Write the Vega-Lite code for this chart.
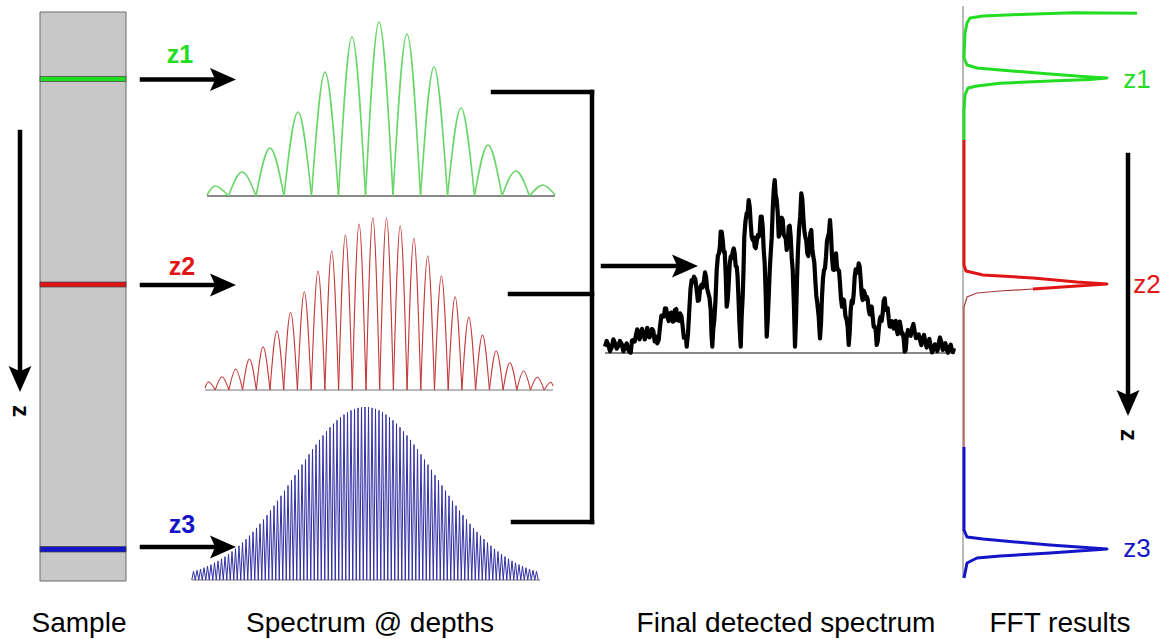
{
"$schema":"https://vega.github.io/schema/vega-lite/v6.json",
"width":1166,"height":639,"padding":0,"autosize":{"type":"none"},
"background":"white",
"config":{"view":{"stroke":null}},
"datasets":{
"box":[{"x":40,"x2":126,"y":12,"y2":581}],
"bands":[{"depth":"z1","x":40,"x2":126,"y":76.5,"y2":81.5},{"depth":"z2","x":40,"x2":126,"y":282,"y2":287},{"depth":"z3","x":40,"x2":126,"y":546.5,"y2":552}],
"segs":[{"x":142,"x2":218,"y":79.5,"y2":79.5},{"x":142,"x2":218,"y":285,"y2":285},{"x":142,"x2":218,"y":547,"y2":547},{"x":603,"x2":680,"y":266,"y2":266},{"x":20,"x2":20,"y":132,"y2":375},{"x":1128,"x2":1128,"y":155,"y2":398},{"x":493,"x2":592,"y":92,"y2":92},{"x":510,"x2":592,"y":294,"y2":294},{"x":513,"x2":592,"y":522,"y2":522},{"x":592,"x2":592,"y":92,"y2":522}],
"headsR":[{"x":223,"y":79.5},{"x":223,"y":285},{"x":223,"y":547},{"x":685,"y":266}],
"headsD":[{"x":20,"y":379},{"x":1128,"y":403}],
"baseK":[{"x":207,"x2":555,"y":196},{"x":605,"x2":955,"y":353}],
"baseG":[{"x":205,"x2":553,"y":390},{"x":192,"x2":540,"y":580}],
"axisG":[{"x":963,"y":6,"y2":578}],
"green":[
{"a":1,"x":207,"y":195},{"a":1,"x":215,"y":186},{"a":1,"x":228.5,"y":196},
{"a":2,"x":228.5,"y":196},{"a":2,"x":242,"y":172},{"a":2,"x":256,"y":196},
{"a":3,"x":256,"y":196},{"a":3,"x":270,"y":148},{"a":3,"x":284,"y":196},
{"a":4,"x":284,"y":196},{"a":4,"x":298,"y":112},{"a":4,"x":311.5,"y":196},
{"a":5,"x":311.5,"y":196},{"a":5,"x":325,"y":72},{"a":5,"x":338.5,"y":196},
{"a":6,"x":338.5,"y":196},{"a":6,"x":352,"y":37},{"a":6,"x":365.5,"y":196},
{"a":7,"x":365.5,"y":196},{"a":7,"x":379,"y":22},{"a":7,"x":393,"y":196},
{"a":8,"x":393,"y":196},{"a":8,"x":407,"y":34},{"a":8,"x":420.5,"y":196},
{"a":9,"x":420.5,"y":196},{"a":9,"x":434,"y":67},{"a":9,"x":447.5,"y":196},
{"a":10,"x":447.5,"y":196},{"a":10,"x":461,"y":108},{"a":10,"x":474.5,"y":196},
{"a":11,"x":474.5,"y":196},{"a":11,"x":488,"y":145},{"a":11,"x":502,"y":196},
{"a":12,"x":502,"y":196},{"a":12,"x":516,"y":171},{"a":12,"x":529.5,"y":196},
{"a":13,"x":529.5,"y":196},{"a":13,"x":543,"y":185},{"a":13,"x":555,"y":195}],
"red":[
{"a":1,"x":205,"y":388},{"a":1,"x":208.3,"y":381.7},{"a":1,"x":215.2,"y":390},
{"a":2,"x":215.2,"y":390},{"a":2,"x":222,"y":376.7},{"a":2,"x":228.9,"y":390},
{"a":3,"x":228.9,"y":390},{"a":3,"x":235.7,"y":369.3},{"a":3,"x":242.6,"y":390},
{"a":4,"x":242.6,"y":390},{"a":4,"x":249.4,"y":359},{"a":4,"x":256.3,"y":390},
{"a":5,"x":256.3,"y":390},{"a":5,"x":263.1,"y":346.7},{"a":5,"x":270,"y":390},
{"a":6,"x":270,"y":390},{"a":6,"x":276.9,"y":331},{"a":6,"x":283.7,"y":390},
{"a":7,"x":283.7,"y":390},{"a":7,"x":290.6,"y":312.3},{"a":7,"x":297.4,"y":390},
{"a":8,"x":297.4,"y":390},{"a":8,"x":304.3,"y":291.7},{"a":8,"x":311.2,"y":390},
{"a":9,"x":311.2,"y":390},{"a":9,"x":318,"y":271},{"a":9,"x":324.9,"y":390},
{"a":10,"x":324.9,"y":390},{"a":10,"x":331.7,"y":251},{"a":10,"x":338.6,"y":390},
{"a":11,"x":338.6,"y":390},{"a":11,"x":345.4,"y":235},{"a":11,"x":352.3,"y":390},
{"a":12,"x":352.3,"y":390},{"a":12,"x":359.1,"y":224},{"a":12,"x":366,"y":390},
{"a":13,"x":366,"y":390},{"a":13,"x":372.8,"y":217.7},{"a":13,"x":379.7,"y":390},
{"a":14,"x":379.7,"y":390},{"a":14,"x":386.5,"y":218.3},{"a":14,"x":393.4,"y":390},
{"a":15,"x":393.4,"y":390},{"a":15,"x":400.2,"y":225.7},{"a":15,"x":407.1,"y":390},
{"a":16,"x":407.1,"y":390},{"a":16,"x":413.9,"y":238.3},{"a":16,"x":420.8,"y":390},
{"a":17,"x":420.8,"y":390},{"a":17,"x":427.7,"y":255.7},{"a":17,"x":434.5,"y":390},
{"a":18,"x":434.5,"y":390},{"a":18,"x":441.4,"y":276},{"a":18,"x":448.2,"y":390},
{"a":19,"x":448.2,"y":390},{"a":19,"x":455.1,"y":296.7},{"a":19,"x":461.9,"y":390},
{"a":20,"x":461.9,"y":390},{"a":20,"x":468.8,"y":317.3},{"a":20,"x":475.6,"y":390},
{"a":21,"x":475.6,"y":390},{"a":21,"x":482.5,"y":335},{"a":21,"x":489.4,"y":390},
{"a":22,"x":489.4,"y":390},{"a":22,"x":496.2,"y":350.7},{"a":22,"x":503.1,"y":390},
{"a":23,"x":503.1,"y":390},{"a":23,"x":509.9,"y":362.7},{"a":23,"x":516.8,"y":390},
{"a":24,"x":516.8,"y":390},{"a":24,"x":523.6,"y":371},{"a":24,"x":530.5,"y":390},
{"a":25,"x":530.5,"y":390},{"a":25,"x":537.3,"y":377.3},{"a":25,"x":544.2,"y":390},
{"a":26,"x":544.2,"y":390},{"a":26,"x":551,"y":382.3},{"a":26,"x":553,"y":386}],
"blue":[
{"x":191.75,"y":580},{"x":193.5,"y":571.4},{"x":195.25,"y":580},{"x":197,"y":570.3},{"x":198.75,"y":580},{"x":200.5,"y":569.1},{"x":202.25,"y":580},{"x":204,"y":567.7},{"x":205.75,"y":580},{"x":207.5,"y":566.2},{"x":209.25,"y":580},{"x":211,"y":564.6},{"x":212.75,"y":580},{"x":214.5,"y":562.8},{"x":216.25,"y":580},{"x":218,"y":560.9},{"x":219.75,"y":580},{"x":221.5,"y":558.8},{"x":223.25,"y":580},{"x":225,"y":556.6},{"x":226.75,"y":580},{"x":228.5,"y":554.2},{"x":230.25,"y":580},{"x":232,"y":551.5},{"x":233.75,"y":580},{"x":235.5,"y":548.8},{"x":237.25,"y":580},{"x":239,"y":545.8},{"x":240.75,"y":580},{"x":242.5,"y":542.6},{"x":244.25,"y":580},{"x":246,"y":539.2},{"x":247.75,"y":580},{"x":249.5,"y":535.7},{"x":251.25,"y":580},{"x":253,"y":531.9},{"x":254.75,"y":580},{"x":256.5,"y":527.9},{"x":258.25,"y":580},{"x":260,"y":523.8},{"x":261.75,"y":580},{"x":263.5,"y":519.5},{"x":265.25,"y":580},{"x":267,"y":515.1},{"x":268.75,"y":580},{"x":270.5,"y":510.5},{"x":272.25,"y":580},{"x":274,"y":505.7},{"x":275.75,"y":580},{"x":277.5,"y":500.8},{"x":279.25,"y":580},{"x":281,"y":495.8},{"x":282.75,"y":580},{"x":284.5,"y":490.7},{"x":286.25,"y":580},{"x":288,"y":485.5},{"x":289.75,"y":580},{"x":291.5,"y":480.3},{"x":293.25,"y":580},{"x":295,"y":475.1},{"x":296.75,"y":580},{"x":298.5,"y":469.8},{"x":300.25,"y":580},{"x":302,"y":464.6},{"x":303.75,"y":580},{"x":305.5,"y":459.5},{"x":307.25,"y":580},{"x":309,"y":454.4},{"x":310.75,"y":580},{"x":312.5,"y":449.4},{"x":314.25,"y":580},{"x":316,"y":444.6},{"x":317.75,"y":580},{"x":319.5,"y":439.9},{"x":321.25,"y":580},{"x":323,"y":435.5},{"x":324.75,"y":580},{"x":326.5,"y":431.3},{"x":328.25,"y":580},{"x":330,"y":427.3},{"x":331.75,"y":580},{"x":333.5,"y":423.7},{"x":335.25,"y":580},{"x":337,"y":420.3},{"x":338.75,"y":580},{"x":340.5,"y":417.3},{"x":342.25,"y":580},{"x":344,"y":414.6},{"x":345.75,"y":580},{"x":347.5,"y":412.3},{"x":349.25,"y":580},{"x":351,"y":410.4},{"x":352.75,"y":580},{"x":354.5,"y":408.9},{"x":356.25,"y":580},{"x":358,"y":407.9},{"x":359.75,"y":580},{"x":361.5,"y":407.2},{"x":363.25,"y":580},{"x":365,"y":407},{"x":366.75,"y":580},{"x":368.5,"y":407.2},{"x":370.25,"y":580},{"x":372,"y":407.9},{"x":373.75,"y":580},{"x":375.5,"y":408.9},{"x":377.25,"y":580},{"x":379,"y":410.4},{"x":380.75,"y":580},{"x":382.5,"y":412.3},{"x":384.25,"y":580},{"x":386,"y":414.6},{"x":387.75,"y":580},{"x":389.5,"y":417.3},{"x":391.25,"y":580},{"x":393,"y":420.3},{"x":394.75,"y":580},{"x":396.5,"y":423.7},{"x":398.25,"y":580},{"x":400,"y":427.3},{"x":401.75,"y":580},{"x":403.5,"y":431.3},{"x":405.25,"y":580},{"x":407,"y":435.5},{"x":408.75,"y":580},{"x":410.5,"y":439.9},{"x":412.25,"y":580},{"x":414,"y":444.6},{"x":415.75,"y":580},{"x":417.5,"y":449.4},{"x":419.25,"y":580},{"x":421,"y":454.4},{"x":422.75,"y":580},{"x":424.5,"y":459.5},{"x":426.25,"y":580},{"x":428,"y":464.6},{"x":429.75,"y":580},{"x":431.5,"y":469.8},{"x":433.25,"y":580},{"x":435,"y":475.1},{"x":436.75,"y":580},{"x":438.5,"y":480.3},{"x":440.25,"y":580},{"x":442,"y":485.5},{"x":443.75,"y":580},{"x":445.5,"y":490.7},{"x":447.25,"y":580},{"x":449,"y":495.8},{"x":450.75,"y":580},{"x":452.5,"y":500.8},{"x":454.25,"y":580},{"x":456,"y":505.7},{"x":457.75,"y":580},{"x":459.5,"y":510.5},{"x":461.25,"y":580},{"x":463,"y":515.1},{"x":464.75,"y":580},{"x":466.5,"y":519.5},{"x":468.25,"y":580},{"x":470,"y":523.8},{"x":471.75,"y":580},{"x":473.5,"y":527.9},{"x":475.25,"y":580},{"x":477,"y":531.9},{"x":478.75,"y":580},{"x":480.5,"y":535.7},{"x":482.25,"y":580},{"x":484,"y":539.2},{"x":485.75,"y":580},{"x":487.5,"y":542.6},{"x":489.25,"y":580},{"x":491,"y":545.8},{"x":492.75,"y":580},{"x":494.5,"y":548.8},{"x":496.25,"y":580},{"x":498,"y":551.5},{"x":499.75,"y":580},{"x":501.5,"y":554.2},{"x":503.25,"y":580},{"x":505,"y":556.6},{"x":506.75,"y":580},{"x":508.5,"y":558.8},{"x":510.25,"y":580},{"x":512,"y":560.9},{"x":513.75,"y":580},{"x":515.5,"y":562.8},{"x":517.25,"y":580},{"x":519,"y":564.6},{"x":520.75,"y":580},{"x":522.5,"y":566.2},{"x":524.25,"y":580},{"x":526,"y":567.7},{"x":527.75,"y":580},{"x":529.5,"y":569.1},{"x":531.25,"y":580},{"x":533,"y":570.3},{"x":534.75,"y":580},{"x":536.5,"y":571.4},{"x":538.25,"y":580}],
"det":[
{"x":605,"y":346.7},{"x":606.7,"y":340.9},{"x":608.3,"y":345},{"x":610,"y":351.2},{"x":611.7,"y":347.3},{"x":613.4,"y":339.3},{"x":615,"y":343.3},{"x":616.7,"y":348.7},{"x":618.3,"y":346},{"x":620,"y":341},{"x":621.7,"y":344},{"x":623.4,"y":351.4},{"x":625,"y":346.7},{"x":626.7,"y":343.4},{"x":628.3,"y":350},{"x":629.5,"y":352},{"x":630.7,"y":352.7},{"x":632,"y":340.4},{"x":633.3,"y":340},{"x":634.7,"y":341.5},{"x":636,"y":335},{"x":637.2,"y":329.4},{"x":638.3,"y":331.7},{"x":639.5,"y":339.4},{"x":640.7,"y":335},{"x":642,"y":328.9},{"x":643.3,"y":332.7},{"x":644.7,"y":339.4},{"x":646,"y":336},{"x":647.2,"y":327.9},{"x":648.3,"y":331.7},{"x":649.5,"y":337.4},{"x":650.7,"y":335},{"x":652,"y":329},{"x":653.3,"y":331},{"x":654.7,"y":341.5},{"x":656,"y":340},{"x":656.7,"y":336.7},{"x":657.3,"y":343.3},{"x":658.7,"y":340},{"x":660,"y":326.7},{"x":661.4,"y":315.7},{"x":662.7,"y":316.7},{"x":663.9,"y":316.5},{"x":665,"y":308.3},{"x":666.2,"y":308.5},{"x":667.3,"y":316.7},{"x":668.7,"y":321},{"x":670,"y":313.3},{"x":671.4,"y":312.5},{"x":672.7,"y":321.7},{"x":673.9,"y":320.9},{"x":675,"y":310},{"x":676.2,"y":309},{"x":677.3,"y":320},{"x":678.7,"y":320.7},{"x":680,"y":313.3},{"x":681.4,"y":316},{"x":682.7,"y":326.7},{"x":683.9,"y":337.7},{"x":685,"y":336.7},{"x":685.9,"y":336.7},{"x":686.7,"y":346.7},{"x":688,"y":333.4},{"x":689.3,"y":310},{"x":690.5,"y":289},{"x":691.7,"y":280},{"x":692.9,"y":282.4},{"x":694,"y":276.7},{"x":695.4,"y":279.4},{"x":696.7,"y":290},{"x":697.9,"y":301},{"x":699,"y":300},{"x":700.2,"y":287.5},{"x":701.3,"y":285},{"x":702.7,"y":287.5},{"x":704,"y":280},{"x":705,"y":272.4},{"x":706,"y":276.7},{"x":707.2,"y":289},{"x":708.3,"y":293.3},{"x":709.5,"y":297.7},{"x":710.7,"y":310},{"x":711.5,"y":334.4},{"x":712.3,"y":346.7},{"x":713.3,"y":328.4},{"x":714.3,"y":320},{"x":715.5,"y":300},{"x":716.7,"y":270},{"x":717.9,"y":255.7},{"x":719,"y":253.3},{"x":719.9,"y":246.5},{"x":720.7,"y":231.7},{"x":721.7,"y":231.9},{"x":722.7,"y":240},{"x":723.7,"y":251.9},{"x":724.7,"y":251.7},{"x":725.7,"y":274.2},{"x":726.7,"y":306.7},{"x":727.7,"y":300},{"x":728.7,"y":283.3},{"x":729.7,"y":264},{"x":730.7,"y":256.7},{"x":731.7,"y":258.2},{"x":732.7,"y":251.7},{"x":733.7,"y":248.5},{"x":734.7,"y":253.3},{"x":735.7,"y":266},{"x":736.7,"y":266.7},{"x":737.5,"y":275},{"x":738.3,"y":293.3},{"x":739.5,"y":325},{"x":740.7,"y":346.7},{"x":741.7,"y":315.7},{"x":742.7,"y":296.7},{"x":743.5,"y":270.7},{"x":744.3,"y":236.7},{"x":745.5,"y":221},{"x":746.7,"y":213.3},{"x":747.7,"y":212.7},{"x":748.7,"y":200},{"x":749.7,"y":206.7},{"x":750.7,"y":223.3},{"x":751.7,"y":236.7},{"x":752.7,"y":240},{"x":753.7,"y":237.4},{"x":754.7,"y":246.7},{"x":755.7,"y":248.2},{"x":756.7,"y":241.7},{"x":757.7,"y":235.2},{"x":758.7,"y":236.7},{"x":759.7,"y":232.7},{"x":760.7,"y":216.7},{"x":761.7,"y":216.7},{"x":762.7,"y":226.7},{"x":763.7,"y":250},{"x":764.7,"y":263.3},{"x":765.7,"y":294},{"x":766.7,"y":336.7},{"x":767.7,"y":320.7},{"x":768.7,"y":296.7},{"x":769.7,"y":271},{"x":770.7,"y":253.3},{"x":771.7,"y":237.7},{"x":772.7,"y":210},{"x":773.7,"y":190},{"x":774.7,"y":180},{"x":775.7,"y":195},{"x":776.7,"y":200},{"x":777.7,"y":212.4},{"x":778.7,"y":236.7},{"x":779.7,"y":234},{"x":780.7,"y":223.3},{"x":781.7,"y":217.7},{"x":782.7,"y":220},{"x":783.7,"y":234.4},{"x":784.7,"y":236.7},{"x":785.7,"y":238.4},{"x":786.7,"y":250},{"x":787.7,"y":243.4},{"x":788.7,"y":226.7},{"x":789.7,"y":225.7},{"x":790.7,"y":236.7},{"x":791.7,"y":257.4},{"x":792.7,"y":270},{"x":793.9,"y":304.4},{"x":795,"y":346.7},{"x":796,"y":319.4},{"x":797,"y":280},{"x":798,"y":250},{"x":799,"y":230},{"x":800.2,"y":216.7},{"x":801.3,"y":193.3},{"x":802.3,"y":199},{"x":803.3,"y":216.7},{"x":804.3,"y":230.7},{"x":805.3,"y":236.7},{"x":806.3,"y":241},{"x":807.3,"y":253.3},{"x":808.3,"y":256},{"x":809.3,"y":246.7},{"x":810.3,"y":233.4},{"x":811.3,"y":230},{"x":812.3,"y":248.4},{"x":813.3,"y":256.7},{"x":814.3,"y":262.4},{"x":815.3,"y":280},{"x":816.3,"y":295.7},{"x":817.3,"y":303.3},{"x":818.7,"y":316.8},{"x":820,"y":338.3},{"x":821,"y":323.5},{"x":822,"y":296.7},{"x":823,"y":278.4},{"x":824,"y":270},{"x":825,"y":268.4},{"x":826,"y":256.7},{"x":827,"y":240.7},{"x":828,"y":236.7},{"x":829,"y":232.4},{"x":830,"y":220},{"x":831,"y":234.4},{"x":832,"y":256.7},{"x":833,"y":269.4},{"x":834,"y":270},{"x":835,"y":256.7},{"x":836,"y":253.3},{"x":837,"y":266.7},{"x":838,"y":270},{"x":839,"y":270.7},{"x":840,"y":283.3},{"x":841,"y":299},{"x":842,"y":306.7},{"x":843,"y":299.4},{"x":844,"y":300},{"x":845.4,"y":316},{"x":846.7,"y":320},{"x":847.7,"y":327.5},{"x":848.7,"y":345},{"x":849.7,"y":332.5},{"x":850.7,"y":310},{"x":851.7,"y":300.7},{"x":852.7,"y":303.3},{"x":853.7,"y":294},{"x":854.7,"y":276.7},{"x":855.7,"y":269.4},{"x":856.7,"y":270},{"x":857.7,"y":272.7},{"x":858.7,"y":263.3},{"x":859.7,"y":266.7},{"x":860.7,"y":280},{"x":861.7,"y":295},{"x":862.7,"y":300},{"x":863.7,"y":290.7},{"x":864.7,"y":293.3},{"x":865.7,"y":299},{"x":866.7,"y":296.7},{"x":867.7,"y":299.4},{"x":868.7,"y":310},{"x":869.7,"y":314.4},{"x":870.7,"y":306.7},{"x":871.7,"y":306.7},{"x":872.7,"y":316.7},{"x":873.7,"y":326.7},{"x":874.7,"y":326.7},{"x":875.7,"y":329.9},{"x":876.7,"y":345},{"x":877.7,"y":341.5},{"x":878.7,"y":330},{"x":879.7,"y":319.4},{"x":880.7,"y":316.7},{"x":881.7,"y":321},{"x":882.7,"y":313.3},{"x":883.7,"y":300.8},{"x":884.7,"y":298.3},{"x":885.7,"y":309.2},{"x":886.7,"y":310},{"x":887.7,"y":308.2},{"x":888.7,"y":318.3},{"x":889.7,"y":326.5},{"x":890.7,"y":326.7},{"x":891.7,"y":321},{"x":892.7,"y":323.3},{"x":893.7,"y":328.5},{"x":894.7,"y":321.7},{"x":895.7,"y":320.9},{"x":896.7,"y":330},{"x":897.7,"y":334.2},{"x":898.7,"y":328.3},{"x":899.7,"y":321.5},{"x":900.7,"y":326.7},{"x":901.7,"y":334},{"x":902.7,"y":333.3},{"x":903.7,"y":338.5},{"x":904.7,"y":351.7},{"x":905.7,"y":350.2},{"x":906.7,"y":336.7},{"x":908,"y":330},{"x":909.3,"y":333.3},{"x":910.7,"y":335.8},{"x":912,"y":328.3},{"x":913.4,"y":324},{"x":914.7,"y":331.7},{"x":916,"y":338.2},{"x":917.3,"y":336.7},{"x":918.7,"y":334.4},{"x":920,"y":340},{"x":921.4,"y":345.2},{"x":922.7,"y":338.3},{"x":924,"y":335},{"x":925.3,"y":341.7},{"x":926.7,"y":347.5},{"x":928,"y":343.3},{"x":929.4,"y":339},{"x":930.7,"y":346.7},{"x":932,"y":352.4},{"x":933.3,"y":350},{"x":934.7,"y":344.4},{"x":936,"y":346.7},{"x":937.4,"y":351},{"x":938.7,"y":343.3},{"x":940,"y":337.5},{"x":941.3,"y":341.7},{"x":942.7,"y":350},{"x":944,"y":348.3},{"x":945.4,"y":343.2},{"x":946.7,"y":350},{"x":948,"y":352.7},{"x":949.3,"y":347.3},{"x":950.7,"y":344.7},{"x":952,"y":350},{"x":953,"y":352},{"x":954,"y":348.3}],
"fft":[
{"depth":"z1","o":1,"x":1137,"y":13.3},{"depth":"z1","o":2,"x":1073,"y":12.7},{"depth":"z1","o":3,"x":1020,"y":14.5},{"depth":"z1","o":4,"x":983,"y":16},{"depth":"z1","o":5,"x":970,"y":18},{"depth":"z1","o":6,"x":967,"y":23},{"depth":"z1","o":7,"x":965,"y":33},{"depth":"z1","o":8,"x":964,"y":58},{"depth":"z1","o":9,"x":967,"y":65},{"depth":"z1","o":10,"x":977,"y":68},{"depth":"z1","o":11,"x":1000,"y":70},{"depth":"z1","o":12,"x":1050,"y":74},{"depth":"z1","o":13,"x":1090,"y":77},{"depth":"z1","o":14,"x":1107,"y":78},{"depth":"z1","o":15,"x":1090,"y":79.5},{"depth":"z1","o":16,"x":1050,"y":81},{"depth":"z1","o":17,"x":1000,"y":83.3},{"depth":"z1","o":18,"x":977,"y":86},{"depth":"z1","o":19,"x":968,"y":88},{"depth":"z1","o":20,"x":965,"y":95},{"depth":"z1","o":21,"x":964,"y":110},{"depth":"z1","o":22,"x":964,"y":140},
{"depth":"z2","o":1,"x":964,"y":140},{"depth":"z2","o":2,"x":964,"y":265},{"depth":"z2","o":3,"x":966,"y":271},{"depth":"z2","o":4,"x":983,"y":275},{"depth":"z2","o":5,"x":1033,"y":278},{"depth":"z2","o":6,"x":1077,"y":282},{"depth":"z2","o":7,"x":1107,"y":284},{"depth":"z2","o":8,"x":1077,"y":286},{"depth":"z2","o":9,"x":1033,"y":289},
{"depth":"z3","o":1,"x":964,"y":447},{"depth":"z3","o":2,"x":964,"y":530},{"depth":"z3","o":3,"x":967,"y":537},{"depth":"z3","o":4,"x":983,"y":539},{"depth":"z3","o":5,"x":1050,"y":545},{"depth":"z3","o":6,"x":1107,"y":549},{"depth":"z3","o":7,"x":1050,"y":553},{"depth":"z3","o":8,"x":1000,"y":556},{"depth":"z3","o":9,"x":977,"y":558},{"depth":"z3","o":10,"x":967,"y":563},{"depth":"z3","o":11,"x":964,"y":578}],
"fftThin":[{"o":1,"x":1033,"y":289},{"o":2,"x":1000,"y":291},{"o":3,"x":977,"y":293},{"o":4,"x":967,"y":297},{"o":5,"x":964,"y":307},{"o":6,"x":964,"y":447}],
"zl":[{"depth":"z1","x":180,"y":55,"t":"z1"},{"depth":"z2","x":182,"y":267,"t":"z2"},{"depth":"z3","x":182,"y":525,"t":"z3"}],
"zr":[{"depth":"z1","x":1137,"y":80,"t":"z1"},{"depth":"z2","x":1147,"y":285,"t":"z2"},{"depth":"z3","x":1137,"y":549,"t":"z3"}],
"bl":[{"x":79,"y":632,"t":"Sample"},{"x":370,"y":632,"t":"Spectrum @ depths"},{"x":786,"y":632,"t":"Final detected spectrum"},{"x":1060,"y":632,"t":"FFT results"}],
"nl":[{"x":20,"y":411,"t":"z"},{"x":1128,"y":435,"t":"z"}]
},
"encoding":{
"x":{"field":"x","type":"quantitative","scale":{"domain":[0,1166],"nice":false,"zero":false},"axis":null},
"y":{"field":"y","type":"quantitative","scale":{"domain":[0,639],"nice":false,"zero":false,"reverse":true},"axis":null}
},
"layer":[
{"data":{"name":"box"},"mark":{"type":"rect","fill":"#c8c8c8","stroke":"#6a6a6a","strokeWidth":1},"encoding":{"x2":{"field":"x2"},"y2":{"field":"y2"}}},
{"data":{"name":"bands"},"mark":{"type":"rect","stroke":"#404040","strokeWidth":0.7,"opacity":1},"encoding":{"x2":{"field":"x2"},"y2":{"field":"y2"},"fill":{"field":"depth","type":"nominal","scale":{"domain":["z1","z2","z3"],"range":["#22dd22","#e01515","#1515c8"]},"legend":null}}},
{"data":{"name":"baseK"},"mark":{"type":"rule","color":"#111111","strokeWidth":1},"encoding":{"x2":{"field":"x2"}}},
{"data":{"name":"baseG"},"mark":{"type":"rule","color":"#777777","strokeWidth":1.2},"encoding":{"x2":{"field":"x2"}}},
{"data":{"name":"green"},"mark":{"type":"line","interpolate":"monotone","color":"#6ad66a","strokeWidth":1.6},"encoding":{"detail":{"field":"a","type":"nominal"}}},
{"data":{"name":"red"},"mark":{"type":"line","interpolate":"monotone","color":"#c23a3a","strokeWidth":1.1},"encoding":{"detail":{"field":"a","type":"nominal"}}},
{"data":{"name":"blue"},"mark":{"type":"line","interpolate":"linear","color":"#3030a4","strokeWidth":1},"encoding":{}},
{"data":{"name":"det"},"mark":{"type":"line","interpolate":"linear","color":"#000000","strokeWidth":4.2,"strokeJoin":"round"},"encoding":{}},
{"data":{"name":"axisG"},"mark":{"type":"rule","color":"#8a8a8a","strokeWidth":1.2},"encoding":{"y2":{"field":"y2"}}},
{"data":{"name":"fft"},"mark":{"type":"line","interpolate":"linear","strokeWidth":3,"strokeJoin":"round"},"encoding":{"order":{"field":"o","type":"quantitative"},"color":{"field":"depth","type":"nominal","scale":{"domain":["z1","z2","z3"],"range":["#22dd22","#e01515","#1515c8"]},"legend":null}}},
{"data":{"name":"fftThin"},"mark":{"type":"line","interpolate":"linear","strokeWidth":1.2,"color":"#a83a3a"},"encoding":{"order":{"field":"o","type":"quantitative"}}},
{"data":{"name":"segs"},"mark":{"type":"rule","color":"#000000","strokeWidth":4.5,"strokeCap":"square"},"encoding":{"x2":{"field":"x2"},"y2":{"field":"y2"}}},
{"data":{"name":"headsR"},"mark":{"type":"point","shape":"M -1 -0.88 L 1 0 L -1 0.88 L -0.6 0 Z","size":676,"filled":true,"color":"#000000","opacity":1,"strokeWidth":0},"encoding":{}},
{"data":{"name":"headsD"},"mark":{"type":"point","shape":"M -1 -0.88 L 1 0 L -1 0.88 L -0.6 0 Z","size":676,"filled":true,"color":"#000000","opacity":1,"strokeWidth":0,"angle":90},"encoding":{}},
{"data":{"name":"zl"},"mark":{"type":"text","font":"Liberation Sans","fontSize":25,"fontWeight":"bold","align":"center","baseline":"middle"},"encoding":{"text":{"field":"t"},"color":{"field":"depth","type":"nominal","scale":{"domain":["z1","z2","z3"],"range":["#22dd22","#e01515","#1515c8"]},"legend":null}}},
{"data":{"name":"zr"},"mark":{"type":"text","font":"Liberation Sans","fontSize":26,"align":"center","baseline":"middle"},"encoding":{"text":{"field":"t"},"color":{"field":"depth","type":"nominal","scale":{"domain":["z1","z2","z3"],"range":["#22dd22","#e01515","#1515c8"]},"legend":null}}},
{"data":{"name":"bl"},"mark":{"type":"text","font":"Liberation Sans","fontSize":28,"align":"center","baseline":"alphabetic","color":"#000000"},"encoding":{"text":{"field":"t"}}},
{"data":{"name":"nl"},"mark":{"type":"text","font":"Liberation Sans","fontSize":24,"fontWeight":"bold","align":"center","baseline":"middle","angle":90,"color":"#000000"},"encoding":{"text":{"field":"t"}}}
]
}
